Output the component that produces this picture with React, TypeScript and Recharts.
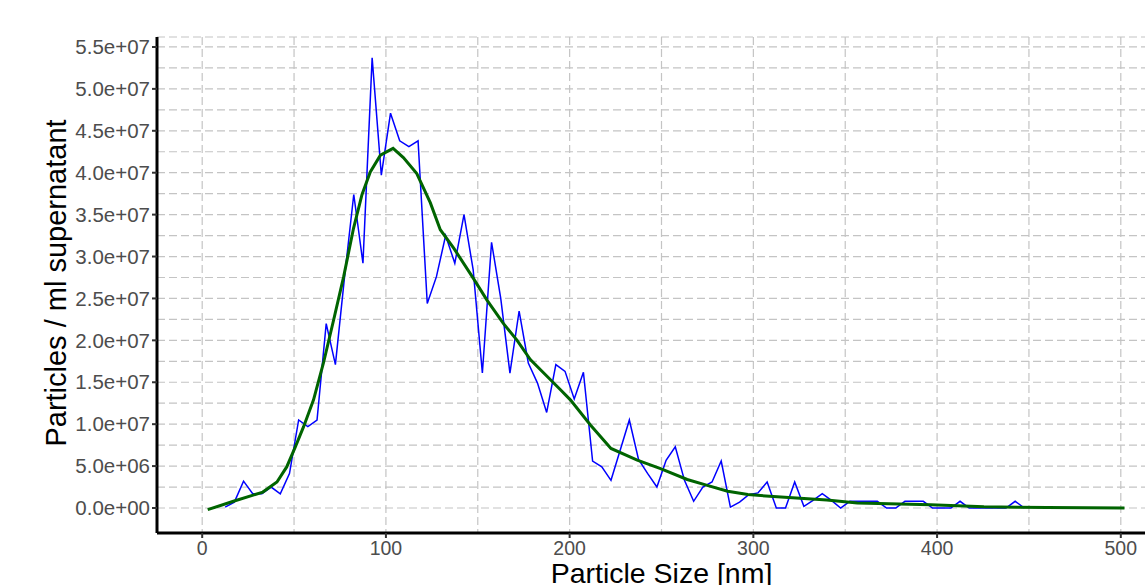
import React from 'react';
import { LineChart, Line, XAxis, YAxis, CartesianGrid } from 'recharts';

const rawSizes = [12.5, 17.5, 22.5, 27.5, 32.5, 37.5, 42.5, 47.5, 52.5, 57.5, 62.5, 67.5, 72.5, 77.5, 82.5, 87.5, 92.5, 97.5, 102.5, 107.5, 112.5, 117.5, 122.5, 127.5, 132.5, 137.5, 142.5, 147.5, 152.5, 157.5, 162.5, 167.5, 172.5, 177.5, 182.5, 187.5, 192.5, 197.5, 202.5, 207.5, 212.5, 217.5, 222.5, 227.5, 232.5, 237.5, 242.5, 247.5, 252.5, 257.5, 262.5, 267.5, 272.5, 277.5, 282.5, 287.5, 292.5, 297.5, 302.5, 307.5, 312.5, 317.5, 322.5, 327.5, 332.5, 337.5, 342.5, 347.5, 352.5, 357.5, 362.5, 367.5, 372.5, 377.5, 382.5, 387.5, 392.5, 397.5, 402.5, 407.5, 412.5, 417.5, 422.5, 427.5, 432.5, 437.5, 442.5, 447.5];
const rawCounts = [0.01e7, 0.07e7, 0.32e7, 0.17e7, 0.17e7, 0.25e7, 0.17e7, 0.41e7, 1.05e7, 0.97e7, 1.05e7, 2.20e7, 1.71e7, 2.76e7, 3.74e7, 2.92e7, 5.37e7, 3.97e7, 4.71e7, 4.38e7, 4.31e7, 4.38e7, 2.44e7, 2.76e7, 3.25e7, 2.92e7, 3.50e7, 2.84e7, 1.61e7, 3.17e7, 2.50e7, 1.61e7, 2.35e7, 1.73e7, 1.49e7, 1.14e7, 1.71e7, 1.63e7, 1.30e7, 1.62e7, 0.56e7, 0.49e7, 0.33e7, 0.69e7, 1.05e7, 0.58e7, 0.41e7, 0.25e7, 0.57e7, 0.73e7, 0.33e7, 0.08e7, 0.25e7, 0.31e7, 0.56e7, 0.01e7, 0.07e7, 0.16e7, 0.18e7, 0.31e7, 0, 0, 0.31e7, 0.02e7, 0.09e7, 0.17e7, 0.09e7, 0, 0.08e7, 0.08e7, 0.08e7, 0.08e7, 0, 0, 0.08e7, 0.08e7, 0.08e7, 0, 0, 0, 0.08e7, 0, 0, 0, 0, 0, 0.08e7, 0];

const smoothSizes = [3, 17, 33, 40.7, 46, 50.7, 55.2, 60.6, 66, 71.5, 77, 82.4, 87, 91.5, 97, 103.9, 109.5, 116.8, 124.2, 129.6, 136.9, 147.6, 155, 164, 171.4, 178.6, 185.9, 195, 200.4, 211.3, 222.5, 236.8, 249.5, 264, 274.9, 286, 297, 315, 340, 356.6, 396.5, 425.5, 460, 502];
const smoothCounts = [-0.02e7, 0.08e7, 0.19e7, 0.31e7, 0.49e7, 0.73e7, 0.97e7, 1.29e7, 1.73e7, 2.24e7, 2.76e7, 3.34e7, 3.74e7, 4.01e7, 4.21e7, 4.29e7, 4.18e7, 3.99e7, 3.64e7, 3.32e7, 3.10e7, 2.74e7, 2.48e7, 2.20e7, 2.00e7, 1.77e7, 1.61e7, 1.41e7, 1.29e7, 0.99e7, 0.71e7, 0.57e7, 0.47e7, 0.34e7, 0.27e7, 0.20e7, 0.16e7, 0.13e7, 0.095e7, 0.06e7, 0.04e7, 0.015e7, 0.005e7, 0];

const xMajor = [0, 100, 200, 300, 400, 500];
const xTicks = [0, 50, 100, 150, 200, 250, 300, 350, 400, 450, 500];
const yMajor = [0, 5e6, 1e7, 1.5e7, 2e7, 2.5e7, 3e7, 3.5e7, 4e7, 4.5e7, 5e7, 5.5e7];
const yTicks = [0, 2.5e6, 5e6, 7.5e6, 1e7, 1.25e7, 1.5e7, 1.75e7, 2e7, 2.25e7, 2.5e7, 2.75e7, 3e7, 3.25e7, 3.5e7, 3.75e7, 4e7, 4.25e7, 4.5e7, 4.75e7, 5e7, 5.25e7, 5.5e7];

const rawData = rawSizes.map((s, i) => ({ size: s, count: rawCounts[i] }));
const smoothData = smoothSizes.map((s, i) => ({ size: s, count: smoothCounts[i] }));

const FONT = '"Liberation Sans", Arial, Helvetica, sans-serif';

const fmt = (v: number) => {
  const s = v.toExponential(1);
  const [m, e] = s.split('e');
  const sign = e[0];
  const d = e.slice(1).padStart(2, '0');
  return `${m}e${sign}${d}`;
};

const YTick = (props: any) => {
  const { x, y, payload } = props;
  if (!yMajor.includes(payload.value)) return <g />;
  return (
    <g>
      <line x1={x + 2} x2={x + 7} y1={y} y2={y} stroke="#333" strokeWidth={2} />
      <text x={x} y={y} dy="0.35em" textAnchor="end" fill="#4d4d4d" fontSize={20.5} fontFamily={FONT}>
        {fmt(payload.value)}
      </text>
    </g>
  );
};

const XTick = (props: any) => {
  const { x, y, payload } = props;
  if (!xMajor.includes(payload.value)) return <g />;
  return (
    <g>
      <line x1={x} x2={x} y1={y - 8} y2={y - 3} stroke="#333" strokeWidth={2} />
      <text x={x} y={y} dy="0.71em" textAnchor="middle" fill="#4d4d4d" fontSize={19.5} fontFamily={FONT}>
        {payload.value}
      </text>
    </g>
  );
};

export default function App() {
  return (
    <div style={{ position: 'fixed', left: 0, top: 0, width: 1145, height: 585, overflow: 'hidden', background: '#fff' }}>
      <LineChart width={1166} height={600} margin={{ top: 37, right: 0, bottom: 0, left: 0 }}>
        <CartesianGrid stroke="#c4c4c4" strokeDasharray="8 4" strokeWidth={1.2} />
        <XAxis
          type="number"
          dataKey="size"
          domain={[-24.6, 524.6]}
          ticks={xTicks}
          interval={0}
          allowDataOverflow
          height={67}
          tickSize={5}
          tickMargin={3}
          tickLine={false}
          tick={<XTick />}
          axisLine={{ stroke: '#000', strokeWidth: 3 }}
          label={{ value: 'Particle Size [nm]', position: 'center', dy: 6, style: { fontSize: 28.5, fill: '#000', fontFamily: FONT } }}
        />
        <YAxis
          type="number"
          domain={[-2.983e6, 5.619e7]}
          ticks={yTicks}
          interval={0}
          allowDataOverflow
          width={157}
          tickSize={5}
          tickMargin={2}
          tickLine={false}
          tick={<YTick />}
          axisLine={{ stroke: '#000', strokeWidth: 3 }}
          label={{ value: 'Particles / ml supernatant', angle: -90, position: 'center', dx: -23, dy: -2, style: { fontSize: 29, fill: '#000', fontFamily: FONT } }}
        />
        <Line data={rawData} dataKey="count" type="linear" stroke="#0000ff" strokeWidth={1.5} dot={false} isAnimationActive={false} />
        <Line data={smoothData} dataKey="count" type="linear" stroke="#006400" strokeWidth={3} dot={false} isAnimationActive={false} />
      </LineChart>
    </div>
  );
}
